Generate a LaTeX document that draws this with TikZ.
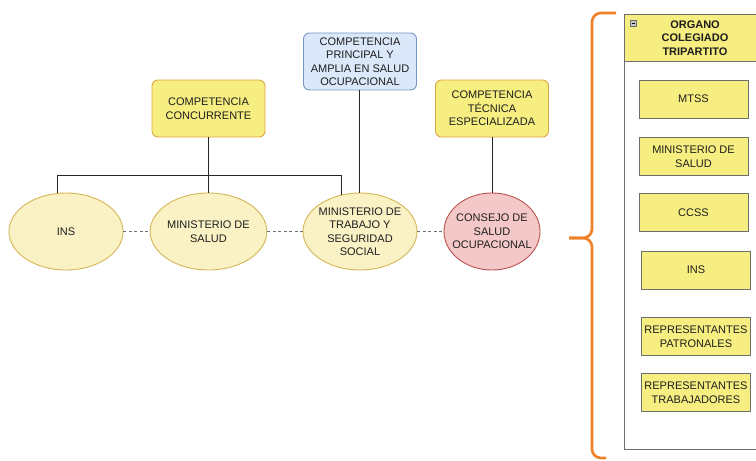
\documentclass[tikz,border=0pt]{standalone}
\usepackage{fontspec}
\setmainfont{Liberation Sans}
\usetikzlibrary{shapes.geometric}
\definecolor{byellow}{RGB}{246,238,128}
\definecolor{borange}{RGB}{222,168,70}
\definecolor{eyellow}{RGB}{250,241,196}
\definecolor{eborder}{RGB}{214,182,86}
\definecolor{bblue}{RGB}{218,232,250}
\definecolor{bblueb}{RGB}{120,150,195}
\definecolor{pinkf}{RGB}{244,200,200}
\definecolor{pinkb}{RGB}{184,84,80}
\definecolor{brace}{RGB}{238,128,40}
\definecolor{gline}{RGB}{110,110,110}
\definecolor{txt}{RGB}{30,30,30}
\tikzset{
  base/.style={font=\fontsize{11}{13.5}\selectfont, text=txt, align=center, inner sep=0pt},
  compbox/.style={base, draw=borange, fill=byellow, rounded corners=6pt, line width=0.9pt, minimum width=113pt, minimum height=57pt},
  bluebox/.style={compbox, draw=bblueb, fill=bblue},
  ell/.style={base, ellipse, draw=eborder, fill=eyellow, line width=0.9pt, minimum width=114pt, minimum height=77pt},
  pinkell/.style={ell, draw=pinkb, fill=pinkf},
  conn/.style={draw=black!85, line width=0.9pt},
  dashconn/.style={draw=gline, line width=0.9pt, dash pattern=on 3pt off 2.5pt},
  member/.style={base, draw=gline, fill=byellow, line width=0.9pt, minimum width=109pt, minimum height=38pt},
}
\begin{document}
\begin{tikzpicture}[x=1pt,y=-1pt]
\clip (0,0) rectangle (756,461);
\fill[white] (0,0) rectangle (756,461);
% top boxes
\node[bluebox] (principal) at (360,61.5) {COMPETENCIA\\PRINCIPAL Y\\AMPLIA EN SALUD\\OCUPACIONAL};
\node[compbox] (conc) at (208.5,108.5) {COMPETENCIA\\CONCURRENTE};
\node[compbox] (tec) at (492,108.5) {COMPETENCIA\\TÉCNICA\\ESPECIALIZADA};
% ellipses
\node[ell] (ins) at (66,231.5) {INS};
\node[ell, minimum width=113pt] (ms) at (208.5,231.5) {MINISTERIO DE\\SALUD};
\node[ell, inner xsep=-8pt, inner ysep=-8pt] (mtss) at (360,231.5) {MINISTERIO DE\\TRABAJO Y\\SEGURIDAD\\SOCIAL};
\node[pinkell, minimum width=96pt, inner xsep=-14pt, inner ysep=-6pt] (cons) at (492,231.5) {CONSEJO DE\\SALUD\\OCUPACIONAL};
% connectors
\coordinate (bus) at (0,175);
\draw[conn] (ins.103) -- (ins.103 |- bus) -- (mtss.117 |- bus) -- (mtss.117);
\draw[conn] (conc.south) -- (ms.north);
\draw[conn] ([xshift=-1pt]principal.south) -- ([xshift=-1pt]mtss.north);
\draw[conn] (tec.south) -- (cons.north);
\draw[dashconn] (ins.east) -- (ms.west);
\draw[dashconn] (ms.east) -- (mtss.west);
\draw[dashconn] (mtss.east) -- (cons.west);
% brace
\draw[brace, line width=2.6pt, rounded corners=9pt] (616,13) -- (592,13) -- (592,238) -- (569,238);
\draw[brace, line width=2.6pt, rounded corners=9pt] (569,238) -- (592,238) -- (592,458) -- (606,458);
% container
\node[draw=gline, fill=white, line width=0.9pt, minimum width=150pt, minimum height=435pt, anchor=north west, inner sep=0pt] (cont) at (624,14) {};
\node[draw=gline, fill=byellow, line width=0.9pt, minimum width=150pt, minimum height=47pt, anchor=north west, inner sep=0pt] (head) at (624,14) {};
\node[base, font=\fontsize{11}{13.5}\selectfont\bfseries] (headtxt) at (695,38) {ORGANO\\COLEGIADO\\TRIPARTITO};
\node[draw=gline, fill=gline!40, minimum size=6pt, inner sep=0pt, line width=0.5pt] (minus) at (633.5,23) {};
\draw[black, line width=0.8pt] ([xshift=1.5pt]minus.west) -- ([xshift=-1.5pt]minus.east);
% members
\node[member] (m1) at (693.5,99) {MTSS};
\node[member] (m2) at (693.5,156.5) {MINISTERIO DE\\SALUD};
\node[member] (m3) at (693.5,212.5) {CCSS};
\node[member] (m4) at (696,270) {INS};
\node[member] (m5) at (696,336.5) {REPRESENTANTES\\PATRONALES};
\node[member] (m6) at (696,392.5) {REPRESENTANTES\\TRABAJADORES};
\end{tikzpicture}
\end{document}
